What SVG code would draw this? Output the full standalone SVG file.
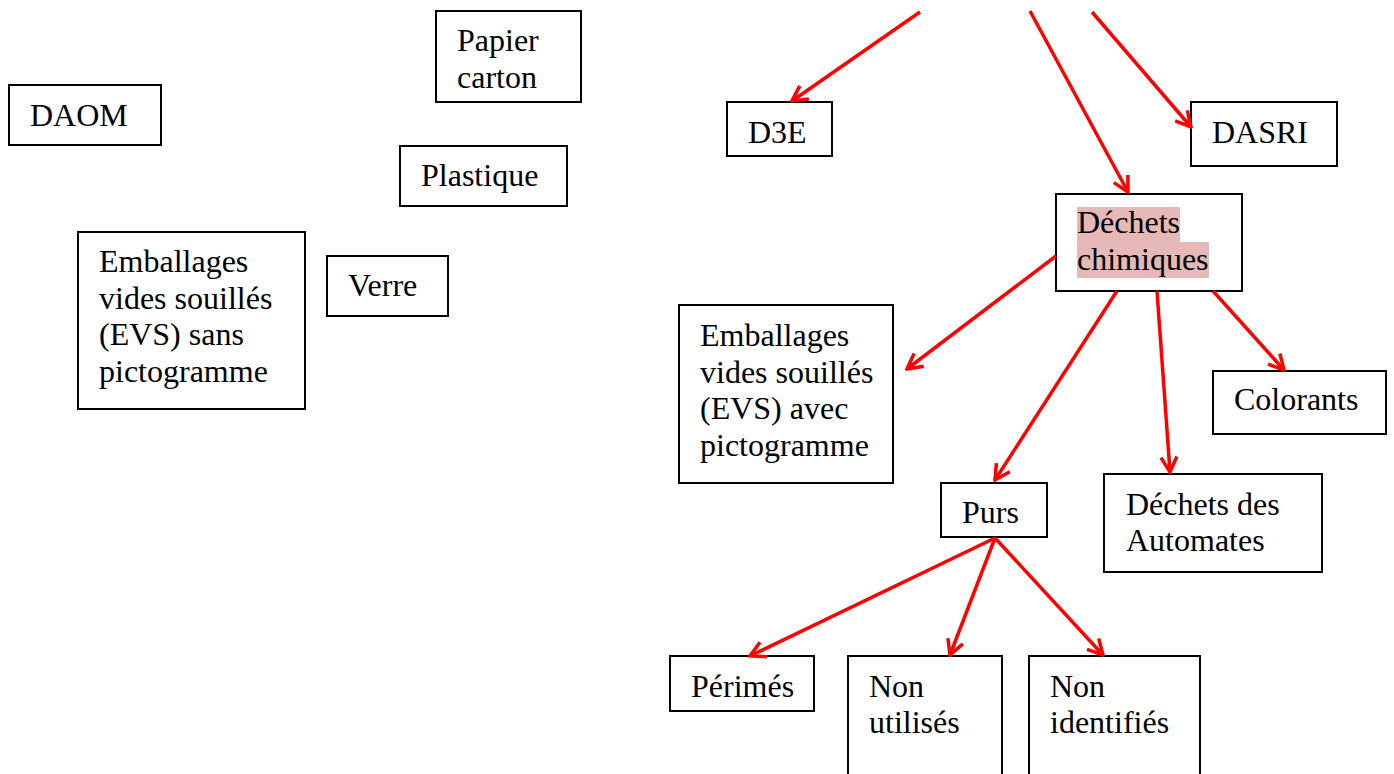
<svg xmlns="http://www.w3.org/2000/svg" width="1394" height="774" viewBox="0 0 1394 774">
<style>
.box{fill:#fff;stroke:#000;stroke-width:2}
.t{font-family:"Liberation Serif","Times New Roman",serif;font-size:32px;fill:#000}
.c{stroke:#ff0000;stroke-width:3.5;fill:none;marker-end:url(#ah)}
</style>
<defs>
<marker id="ah" markerUnits="userSpaceOnUse" viewBox="-18 -10 20 20" refX="0" refY="0" markerWidth="20" markerHeight="20" orient="auto">
<path d="M-15,-8 L0,0 L-15,8" fill="none" stroke="#ff0000" stroke-width="3.5"/>
</marker>
</defs>
<rect width="1394" height="774" fill="#fff"/>
<g id="papier"><rect class="box" x="436" y="11" width="145" height="91"/><text class="t" x="457" y="51">Papier</text><text class="t" x="457" y="88">carton</text></g>
<g id="daom"><rect class="box" x="9" y="85" width="152" height="60"/><text class="t" x="30" y="126">DAOM</text></g>
<g id="plastique"><rect class="box" x="400" y="146" width="167" height="60"/><text class="t" x="421" y="186">Plastique</text></g>
<g id="evs-sans"><rect class="box" x="78" y="232" width="227" height="177"/><text class="t" x="99" y="272">Emballages</text><text class="t" x="99" y="309">vides souillés</text><text class="t" x="99" y="345">(EVS) sans</text><text class="t" x="99" y="382">pictogramme</text></g>
<g id="verre"><rect class="box" x="327" y="256" width="121" height="60"/><text class="t" x="348" y="296">Verre</text></g>
<g id="d3e"><rect class="box" x="727" y="102" width="105" height="54"/><text class="t" x="748" y="143">D3E</text></g>
<g id="dasri"><rect class="box" x="1191" y="102" width="146" height="64"/><text class="t" x="1212" y="143">DASRI</text></g>
<g id="chimiques"><rect class="box" x="1056" y="194" width="186" height="97"/><rect x="1077" y="207" width="103" height="36" fill="#e6b8b7"/><rect x="1077" y="242" width="132" height="36" fill="#e6b8b7"/><text class="t" x="1077" y="233">Déchets</text><text class="t" x="1077" y="270">chimiques</text></g>
<g id="evs-avec"><rect class="box" x="679" y="305" width="214" height="178"/><text class="t" x="700" y="346">Emballages</text><text class="t" x="700" y="383">vides souillés</text><text class="t" x="700" y="419">(EVS) avec</text><text class="t" x="700" y="456">pictogramme</text></g>
<g id="colorants"><rect class="box" x="1213" y="371" width="173" height="63"/><text class="t" x="1234" y="410">Colorants</text></g>
<g id="purs"><rect class="box" x="941" y="483" width="106" height="54"/><text class="t" x="962" y="523">Purs</text></g>
<g id="automates"><rect class="box" x="1104" y="474" width="218" height="98"/><text class="t" x="1126" y="515">Déchets des</text><text class="t" x="1126" y="551">Automates</text></g>
<g id="perimes"><rect class="box" x="670" y="656" width="144" height="55"/><text class="t" x="691" y="697">Périmés</text></g>
<g id="non-utilises"><rect class="box" x="848" y="656" width="154" height="130"/><text class="t" x="869" y="697">Non</text><text class="t" x="869" y="733">utilisés</text></g>
<g id="non-identifies"><rect class="box" x="1029" y="656" width="171" height="130"/><text class="t" x="1050" y="697">Non</text><text class="t" x="1050" y="733">identifiés</text></g>
<g id="connectors">
<line class="c" x1="920" y1="12" x2="792" y2="101"/>
<line class="c" x1="1030" y1="11" x2="1128" y2="192"/>
<line class="c" x1="1092" y1="12" x2="1191" y2="127"/>
<line class="c" x1="1056" y1="256" x2="907" y2="369"/>
<line class="c" x1="1117" y1="291" x2="995" y2="480"/>
<line class="c" x1="1157" y1="291" x2="1170" y2="472"/>
<line class="c" x1="1213" y1="291" x2="1284" y2="370"/>
<line class="c" x1="995" y1="538" x2="750" y2="656"/>
<line class="c" x1="995" y1="538" x2="950" y2="655"/>
<line class="c" x1="995" y1="538" x2="1103" y2="655"/>
</g>
</svg>
